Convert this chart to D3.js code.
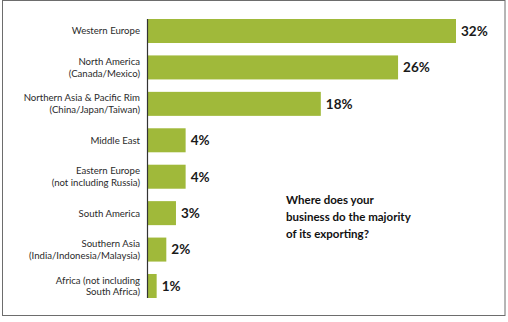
<!DOCTYPE html>
<html><head><meta charset="utf-8">
<script src="https://cdn.jsdelivr.net/npm/d3@7"></script>
<style>body{margin:0;background:#fff}svg{display:block}</style>
</head><body>
<svg id="c" width="508" height="322"></svg>
<script>
const categories = [
  ["Western Europe"],
  ["North America","(Canada/Mexico)"],
  ["Northern Asia & Pacific Rim","(China/Japan/Taiwan)"],
  ["Middle East"],
  ["Eastern Europe","(not including Russia)"],
  ["South America"],
  ["Southern Asia","(India/Indonesia/Malaysia)"],
  ["Africa (not including","South Africa)"]
];
const values = [32, 26, 18, 4, 4, 3, 2, 1];
const valueLabels = ["32%","26%","18%","4%","4%","3%","2%","1%"];
const questionLines = ["Where does your","business do the majority","of its exporting?"];

const svg = d3.select("#c");
svg.append("rect").attr("x",2.5).attr("y",0.5).attr("width",502.5).attr("height",315)
  .attr("fill","#fff").attr("stroke","#6d6d6d").attr("stroke-width",1);

const idx = d3.range(values.length);
const y = d3.scaleBand().domain(idx).range([19,298]).paddingInner(0.341).paddingOuter(0);
const x = d3.scaleLinear().domain([0,32]).range([147,456]);

svg.selectAll("rect.bar").data(idx).join("rect").attr("class","bar")
  .attr("x",x(0)).attr("y",d=>y(d)).attr("width",d=>x(values[d])-x(0)).attr("height",y.bandwidth())
  .attr("fill","#a0b93a");

const axis = d3.axisLeft(y).tickSize(0).tickFormat("");
const ag = svg.append("g").attr("transform",`translate(${x(0)},0)`).call(axis);
ag.select(".domain").attr("stroke","#333").attr("stroke-width",1.2).attr("d",`M0.5,19V298`);

const lab = svg.append("g").attr("font-family","Lato, 'Open Sans', sans-serif").attr("font-size",9.6).attr("fill","#2a2a2a").attr("text-anchor","end");
idx.forEach(i=>{
  const lines = categories[i];
  const cy = y(i)+y.bandwidth()/2;
  const lh = 11.5;
  const t = lab.append("text").attr("x",140);
  lines.forEach((l,k)=>{
    t.append("tspan").attr("x",140).attr("y", cy + (k-(lines.length-1)/2)*lh).attr("dy","0.35em").text(l);
  });
});

svg.append("g").attr("font-family","Lato, 'Open Sans', sans-serif").attr("font-size",13.5).attr("font-weight",700).attr("fill","#1a1a1a")
  .selectAll("text").data(idx).join("text")
  .attr("x",d=>x(values[d])+5).attr("y",d=>y(d)+y.bandwidth()/2).attr("dy","0.36em").text(d=>valueLabels[d]);

const q = svg.append("text").attr("font-family","Lato, 'Open Sans', sans-serif").attr("font-size",11.5).attr("font-weight",700).attr("fill","#111");
questionLines.forEach((l,k)=>{
  q.append("tspan").attr("x",286).attr("y",200+k*17).attr("dy","0.35em").text(l);
});
</script>
</body></html>
